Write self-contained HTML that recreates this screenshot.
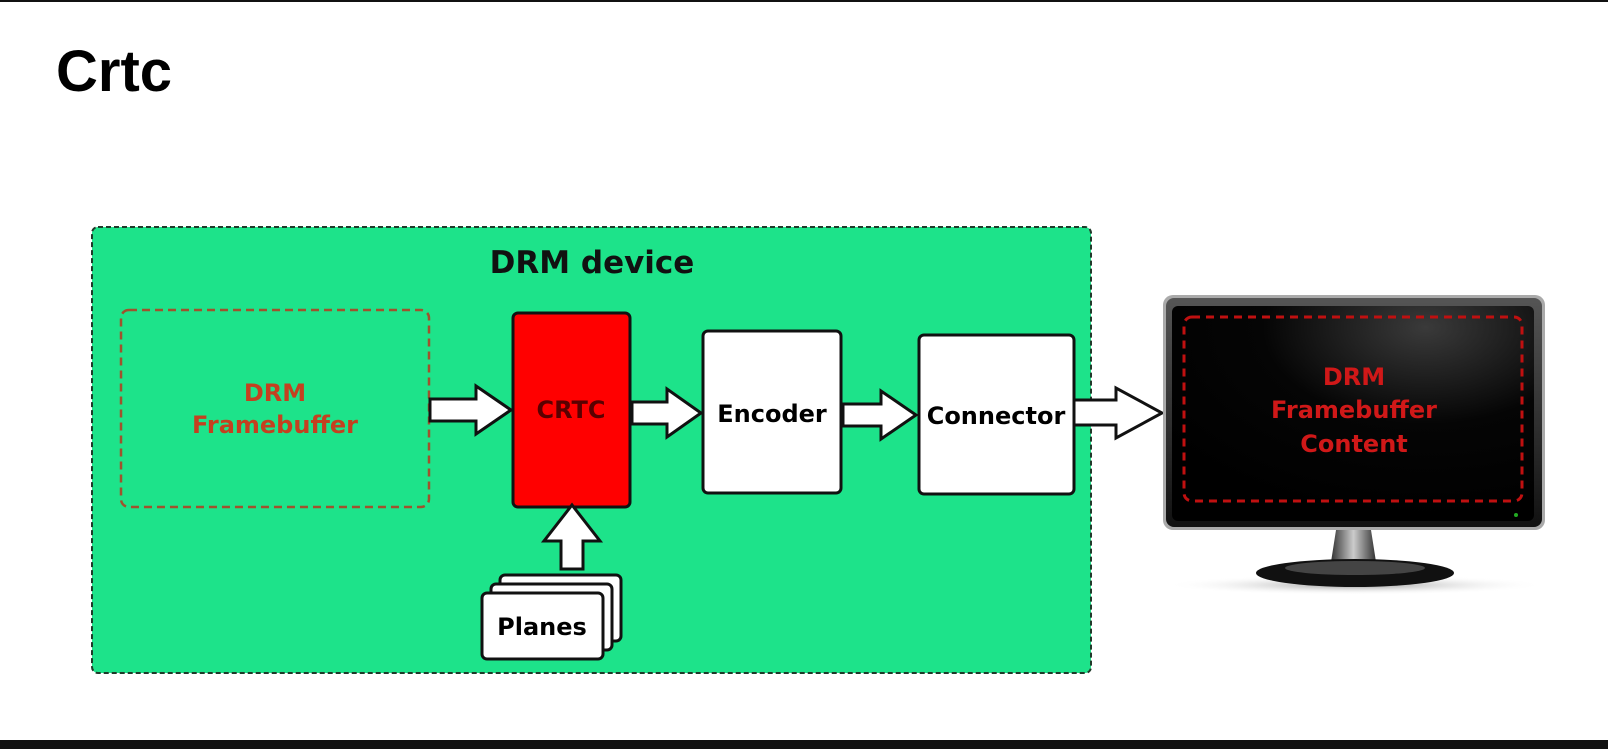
<!DOCTYPE html>
<html><head><meta charset="utf-8"><style>
html,body{margin:0;padding:0;background:#fff;width:1608px;height:749px;overflow:hidden;position:relative}
.t{position:absolute;left:56px;top:38px;font:bold 58px "Liberation Sans",sans-serif;color:#000}
</style></head><body>
<div style="position:absolute;left:0;top:0;width:1608px;height:2px;background:#111"></div>
<div class="t">Crtc</div>
<svg width="1608" height="749" style="position:absolute;left:0;top:0" font-family="DejaVu Sans,sans-serif" font-weight="bold">
<defs>
<linearGradient id="bz" x1="0" y1="0" x2="0" y2="1"><stop offset="0" stop-color="#555"/><stop offset="1" stop-color="#111"/></linearGradient>
<radialGradient id="sc" cx="0.7" cy="0.1" r="0.9"><stop offset="0" stop-color="#3a3a3a"/><stop offset="0.5" stop-color="#050505"/><stop offset="1" stop-color="#000"/></radialGradient>
<linearGradient id="nk" x1="0" y1="0" x2="1" y2="0"><stop offset="0" stop-color="#333"/><stop offset="0.5" stop-color="#ccc"/><stop offset="1" stop-color="#333"/></linearGradient>
<radialGradient id="sh"><stop offset="0" stop-color="#999"/><stop offset="1" stop-color="#fff" stop-opacity="0"/></radialGradient>
</defs>
<rect x="92" y="227" width="999" height="446" rx="6" fill="#1de38a" stroke="#1f3a2a" stroke-width="2" stroke-dasharray="5,3"/>
<text x="592" y="273" font-size="31" text-anchor="middle" fill="#111">DRM device</text>
<rect x="121" y="310" width="308" height="197" rx="8" fill="none" stroke="#a0522d" stroke-width="2.5" stroke-dasharray="8,5"/>
<text x="275" y="401" font-size="24" text-anchor="middle" fill="#c44020">DRM</text>
<text x="275" y="433" font-size="24" text-anchor="middle" fill="#c44020">Framebuffer</text>
<rect x="513" y="313" width="117" height="194" rx="5" fill="#ff0000" stroke="#111" stroke-width="3"/>
<text x="571" y="418" font-size="24" text-anchor="middle" fill="#5a0000">CRTC</text>
<rect x="703" y="331" width="138" height="162" rx="5" fill="#fff" stroke="#111" stroke-width="3"/>
<text x="772" y="422" font-size="24" text-anchor="middle" fill="#000">Encoder</text>
<rect x="919" y="335" width="155" height="159" rx="5" fill="#fff" stroke="#111" stroke-width="3"/>
<text x="996" y="424" font-size="24" text-anchor="middle" fill="#000">Connector</text>
<g fill="#fff" stroke="#111" stroke-width="3" stroke-linejoin="miter">
<path d="M430 399 H476 V386 L511 410 L476 434 V421 H430 Z"/>
<path d="M632 402 H667 V389 L701 413 L667 437 V424 H632 Z"/>
<path d="M843 404 H881 V391 L916 415 L881 439 V426 H843 Z"/>
<path d="M1074 400 H1116 V388 L1162 413 L1116 438 V425 H1074 Z"/>
<path d="M561 569 V541 H544 L572 505 L600 541 H583 V569 Z"/>
<rect x="500" y="575" width="121" height="66" rx="5"/>
<rect x="491" y="584" width="121" height="66" rx="5"/>
<rect x="482" y="593" width="121" height="66" rx="5"/>
</g>
<text x="542" y="635" font-size="24" text-anchor="middle" fill="#000">Planes</text>
<ellipse cx="1355" cy="585" rx="190" ry="10" fill="url(#sh)"/>
<rect x="1163" y="295" width="382" height="235" rx="10" fill="#aaa"/>
<rect x="1166" y="298" width="376" height="229" rx="8" fill="url(#bz)"/>
<rect x="1172" y="306" width="362" height="215" rx="6" fill="url(#sc)"/>
<rect x="1184" y="317" width="338" height="184" rx="8" fill="none" stroke="#c01010" stroke-width="3" stroke-dasharray="8,6"/>
<text x="1354" y="385" font-size="24" text-anchor="middle" fill="#d01818">DRM</text>
<text x="1354" y="418" font-size="24" text-anchor="middle" fill="#d01818">Framebuffer</text>
<text x="1354" y="452" font-size="24" text-anchor="middle" fill="#d01818">Content</text>
<circle cx="1516" cy="515" r="2" fill="#2a2"/>
<path d="M1336 530 H1371 L1376 562 H1331 Z" fill="url(#nk)"/>
<ellipse cx="1355" cy="573" rx="99" ry="14" fill="#111"/>
<ellipse cx="1355" cy="568" rx="70" ry="7" fill="#444"/>
</svg>
<div style="position:absolute;left:0;top:740px;width:1608px;height:9px;background:#111"></div>
</body></html>
